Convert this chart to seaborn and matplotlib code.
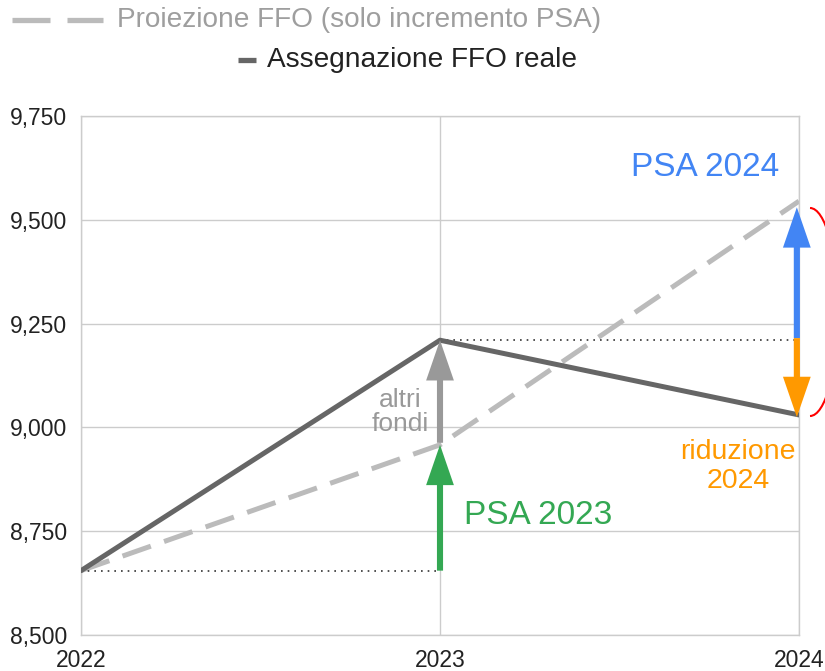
import numpy as np
import pandas as pd
import seaborn as sns
import matplotlib
matplotlib.use("Agg")
import matplotlib.pyplot as plt
from matplotlib.lines import Line2D
from matplotlib.patches import Arc
from matplotlib.ticker import FuncFormatter

# ---- data ----
years = [2022, 2023, 2024]
ffo_reale = [8655, 9210, 9030]
proiezione = [8655, 8958, 9545]
y_ticks = [8500, 8750, 9000, 9250, 9500, 9750]
x_ticks = [2022, 2023, 2024]
label_proiezione = "Proiezione FFO (solo incremento PSA)"
label_reale = "Assegnazione FFO reale"
arrow_psa2023 = (8655, 8958)
arrow_altri = (8963, 9210)
arrow_psa2024 = (9215, 9530)
arrow_riduzione = (9215, 9025)

GREEN = "#34A853"
GREY_ARROW = "#999999"
BLUE = "#4285F4"
ORANGE = "#FF9900"
GRID = "#cccccc"

sns.set_theme(style="white")
plt.rcParams['font.family'] = ['Liberation Sans', 'DejaVu Sans']

W, H = 825, 671
fig = plt.figure(figsize=(W / 100, H / 100), dpi=100)
L, R, T, B = 81, 799, 116, 635
ax = fig.add_axes([L / W, 1 - B / H, (R - L) / W, (B - T) / H])

df = pd.DataFrame({"anno": years, "reale": ffo_reale, "proiezione": proiezione})

sns.lineplot(data=df, x="anno", y="proiezione", ax=ax, color="#bbbbbb",
             lw=3.6, linestyle=(0, (6, 2.8)), zorder=2)
sns.lineplot(data=df, x="anno", y="reale", ax=ax, color="#666666",
             lw=3.6, zorder=3)

# dotted reference lines
ax.plot([years[0], years[1]], [ffo_reale[0], ffo_reale[0]], color="#333333",
        lw=1.2, linestyle=(0, (1, 3)), zorder=2)
ax.plot([years[1], years[2]], [ffo_reale[1], ffo_reale[1]], color="#333333",
        lw=1.2, linestyle=(0, (1, 3)), zorder=2)


def arrow(x, span, color):
    ax.annotate("", xy=(x, span[1]), xytext=(x, span[0]),
                arrowprops=dict(arrowstyle="simple,head_length=29,head_width=20,tail_width=4.4",
                                color=color, lw=0, shrinkA=0, shrinkB=0,
                                mutation_scale=1),
                annotation_clip=False, zorder=5)


arrow(years[1], arrow_psa2023, GREEN)
arrow(years[1], arrow_altri, GREY_ARROW)
x24 = years[2] - 0.006
arrow(x24, arrow_psa2024, BLUE)
arrow(x24, arrow_riduzione, ORANGE)

ax.text(2023.738, 9625, "PSA 2024", color=BLUE, fontsize=24, ha="center", va="center")
ax.text(2023.273, 8787, "PSA 2023", color=GREEN, fontsize=24, ha="center", va="center")
ax.text(2022.889, 9037, "altri\nfondi", color=GREY_ARROW, fontsize=19, ha="center",
        va="center", linespacing=1.0)
ax.text(2023.830, 8905, "riduzione\n2024", color=ORANGE, fontsize=20.5, ha="center",
        va="center", linespacing=1.15)

ax.set_xlim(years[0], years[-1])
ax.set_ylim(y_ticks[0], y_ticks[-1])
ax.set_xticks(x_ticks)
ax.set_yticks(y_ticks)
ax.yaxis.set_major_formatter(FuncFormatter(lambda v, p: f"{int(v):,}"))
ax.set_xticklabels([str(x) for x in x_ticks])
ax.tick_params(axis="y", length=0, pad=10, labelsize=16.5, labelcolor="#222222")
ax.tick_params(axis="x", length=0, pad=10, labelsize=16.5, labelcolor="#222222")
ax.set_xlabel("")
ax.set_ylabel("")
ax.grid(True, color=GRID, lw=1)
for s in ax.spines.values():
    s.set_color(GRID)
    s.set_linewidth(1)

# legend (manual, two rows)
fig.add_artist(Line2D([12 / W, 50 / W], [1 - 20 / H] * 2, color="#bbbbbb", lw=3.8,
                      solid_capstyle="butt"))
fig.add_artist(Line2D([67 / W, 103 / W], [1 - 20 / H] * 2, color="#bbbbbb", lw=3.8,
                      solid_capstyle="butt"))
fig.text(117 / W, 1 - 20 / H, label_proiezione, color="#9e9e9e", fontsize=20.2,
         ha="left", va="center")
fig.add_artist(Line2D([238 / W, 256 / W], [1 - 60 / H] * 2, color="#666666", lw=3.8,
                      solid_capstyle="butt"))
fig.text(267 / W, 1 - 60 / H, label_reale, color="#222222", fontsize=20.2,
         ha="left", va="center")

# red bracket arcs on the right
fig.add_artist(Arc((810 / W, 1 - 312 / H), 56 / W, 208 / H, theta1=-90, theta2=90,
                   transform=fig.transFigure, color="#ff0000", lw=1.5))

fig.savefig("out.png", dpi=100)
